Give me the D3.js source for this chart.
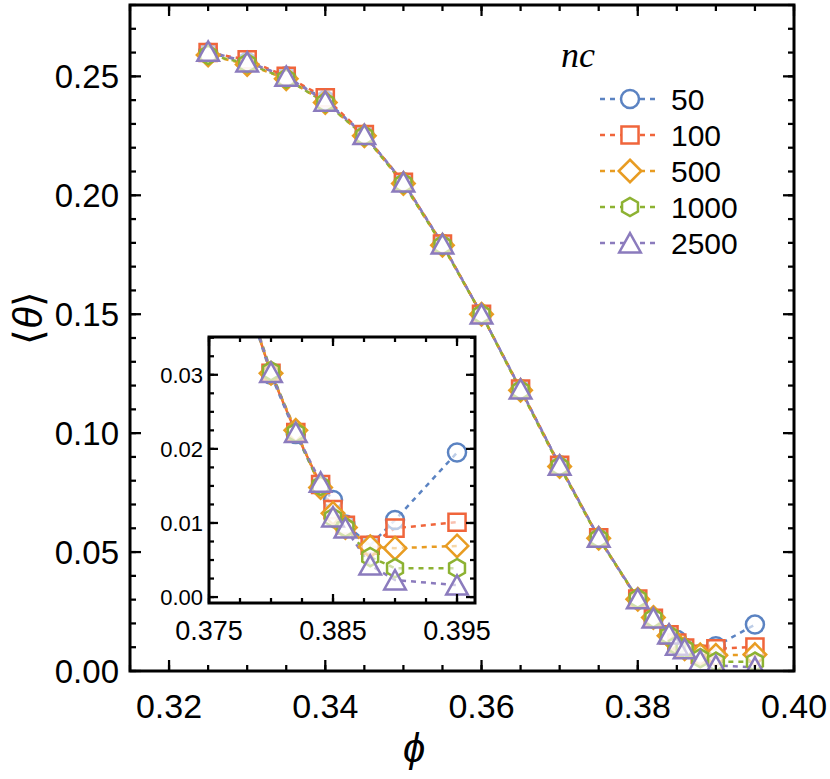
<!DOCTYPE html>
<html>
<head>
<meta charset="utf-8">
<script src="https://cdn.jsdelivr.net/npm/d3@7"></script>
<style>
  body { margin: 0; background: #fff; }
  text { font-family: "Liberation Sans", Arial, sans-serif; fill: #000; }
  text.serif { font-family: "Liberation Serif", "Times New Roman", serif; }
</style>
</head>
<body>
<script>
// chart values
const phi = [0.325, 0.33, 0.335, 0.34, 0.345, 0.35, 0.355, 0.36, 0.365, 0.37, 0.375, 0.38, 0.382, 0.384, 0.385, 0.386, 0.388, 0.39, 0.395];
const ncLabels = ['50', '100', '500', '1000', '2500'];
const theta50   = [0.2600, 0.2560, 0.2500, 0.2400, 0.2255, 0.2055, 0.1795, 0.1500, 0.1185, 0.0865, 0.0560, 0.0300, 0.0220, 0.0150, 0.0131, 0.0098, 0.0070, 0.0104, 0.0195];
const theta100  = [0.2600, 0.2570, 0.2500, 0.2410, 0.2255, 0.2055, 0.1795, 0.1500, 0.1185, 0.0865, 0.0560, 0.0302, 0.0222, 0.0152, 0.0118, 0.0097, 0.0070, 0.0093, 0.0101];
const theta500  = [0.2590, 0.2550, 0.2490, 0.2390, 0.2250, 0.2050, 0.1790, 0.1500, 0.1180, 0.0860, 0.0558, 0.0302, 0.0225, 0.0148, 0.0113, 0.0094, 0.0068, 0.0066, 0.0069];
const theta1000 = [0.2590, 0.2555, 0.2490, 0.2390, 0.2250, 0.2050, 0.1790, 0.1500, 0.1180, 0.0860, 0.0558, 0.0305, 0.0222, 0.0150, 0.0107, 0.0094, 0.0054, 0.0039, 0.0039];
const theta2500 = [0.2605, 0.2560, 0.2500, 0.2395, 0.2255, 0.2055, 0.1795, 0.1500, 0.1185, 0.0865, 0.0562, 0.0303, 0.0222, 0.0155, 0.0108, 0.0093, 0.0043, 0.0023, 0.0016];
const xTicks = [0.32, 0.34, 0.36, 0.38, 0.40];
const yTicks = [0.00, 0.05, 0.10, 0.15, 0.20, 0.25];
const insetXTicks = [0.375, 0.385, 0.395];
const insetYTicks = [0.00, 0.01, 0.02, 0.03];

const colors = ['#5b83c2', '#f0653b', '#e89c22', '#8db232', '#8b7bbd'];
const shapes = ['circle', 'square', 'diamond', 'hexagon', 'triangle'];

const series = [theta50, theta100, theta500, theta1000, theta2500].map((vals, i) => ({
  name: ncLabels[i],
  color: colors[i],
  shape: shapes[i],
  values: vals.map((v, j) => ({ x: phi[j], y: v }))
}));

const W = 830, H = 779;
const svg = d3.select('body').append('svg').attr('width', W).attr('height', H);

const markerPath = (shape, s) => {
  if (shape === 'circle') return d3.symbol(d3.symbolCircle, Math.PI * s * s)();
  if (shape === 'square') { const a = s * 0.95; return `M${-a},${-a}H${a}V${a}H${-a}Z`; }
  if (shape === 'diamond') { const a = s * 1.25; return `M0,${-a}L${a},0L0,${a}L${-a},0Z`; }
  if (shape === 'hexagon') {
    const a = s * 1.02;
    return d3.range(6).map(k => {
      const ang = Math.PI / 2 + k * Math.PI / 3;
      return (k ? 'L' : 'M') + (a * Math.cos(ang)).toFixed(2) + ',' + (-a * Math.sin(ang)).toFixed(2);
    }).join('') + 'Z';
  }
  // triangle
  const w = s * 1.2, h = s * 1.1;
  return `M0,${-h}L${w},${h * 0.95}L${-w},${h * 0.95}Z`;
};

const drawTicks = (g, scale, vals, len, orient, x0, y0, x1, y1) => {
  vals.forEach(v => {
    const p = scale(v);
    if (orient === 'x') {
      g.append('line').attr('x1', p).attr('x2', p).attr('y1', y1).attr('y2', y1 - len);
      g.append('line').attr('x1', p).attr('x2', p).attr('y1', y0).attr('y2', y0 + len);
    } else {
      g.append('line').attr('y1', p).attr('y2', p).attr('x1', x0).attr('x2', x0 + len);
      g.append('line').attr('y1', p).attr('y2', p).attr('x1', x1).attr('x2', x1 - len);
    }
  });
};

const drawPanel = (opts) => {
  const { x, y, xDomain, yDomain, id, xMajor, xMinor, yMajor, yMinor, major, minor, lw, r, dash } = opts;
  const xs = d3.scaleLinear().domain(xDomain).range([x[0], x[1]]);
  const ys = d3.scaleLinear().domain(yDomain).range([y[1], y[0]]);
  const g = svg.append('g');

  g.append('rect').attr('x', x[0]).attr('y', y[0]).attr('width', x[1] - x[0]).attr('height', y[1] - y[0]).attr('fill', '#fff');

  svg.append('clipPath').attr('id', id)
    .append('rect').attr('x', x[0]).attr('y', y[0]).attr('width', x[1] - x[0]).attr('height', y[1] - y[0]);

  const line = d3.line().x(d => xs(d.x)).y(d => ys(d.y));
  const plot = g.append('g').attr('clip-path', `url(#${id})`);

  series.forEach((s, i) => {
    plot.append('path')
      .datum(s.values)
      .attr('d', line)
      .attr('fill', 'none')
      .attr('stroke', s.color)
      .attr('stroke-width', lw)
      .attr('stroke-dasharray', dash)
      .attr('stroke-dashoffset', i * 2);
  });
  series.forEach(s => {
    plot.selectAll(null)
      .data(s.values.filter(d => d.x >= xDomain[0] - 0.003 && d.x <= xDomain[1] + 0.003))
      .enter().append('path')
      .attr('transform', d => `translate(${xs(d.x)},${ys(d.y)})`)
      .attr('d', markerPath(s.shape, r))
      .attr('fill', '#fff')
      .attr('fill-opacity', 0.6)
      .attr('stroke', s.color)
      .attr('stroke-width', lw);
  });

  const tg = g.append('g').attr('stroke', '#000').attr('stroke-width', lw * 0.9);
  drawTicks(tg, xs, xMinor, minor, 'x', x[0], y[0], x[1], y[1]);
  drawTicks(tg, xs, xMajor, major, 'x', x[0], y[0], x[1], y[1]);
  drawTicks(tg, ys, yMinor, minor, 'y', x[0], y[0], x[1], y[1]);
  drawTicks(tg, ys, yMajor, major, 'y', x[0], y[0], x[1], y[1]);

  g.append('rect').attr('x', x[0]).attr('y', y[0]).attr('width', x[1] - x[0]).attr('height', y[1] - y[0])
    .attr('fill', 'none').attr('stroke', '#000').attr('stroke-width', lw * 1.2);

  return { xs, ys, g };
};

// main panel
const main = drawPanel({
  id: 'clipMain',
  x: [130, 794], y: [5, 671],
  xDomain: [0.315, 0.40], yDomain: [0, 0.28],
  xMajor: xTicks, xMinor: d3.range(0.315, 0.4001, 0.005),
  yMajor: yTicks, yMinor: d3.range(0, 0.2801, 0.01),
  major: 11, minor: 6, lw: 2.5, r: 9, dash: '5,5'
});

main.g.selectAll('.xl').data(xTicks).enter().append('text')
  .attr('x', d => main.xs(d)).attr('y', 718)
  .attr('text-anchor', 'middle').attr('font-size', 34)
  .text(d => d.toFixed(2));
main.g.selectAll('.yl').data(yTicks).enter().append('text')
  .attr('x', 119).attr('y', d => main.ys(d) + 12)
  .attr('text-anchor', 'end').attr('font-size', 33)
  .text(d => d.toFixed(2));

svg.append('text').attr('x', 414).attr('y', 762).attr('text-anchor', 'middle')
  .attr('font-size', 40).attr('font-style', 'italic').text('\u03d5');
const yl = svg.append('text').attr('transform', 'translate(42,318) rotate(-90)').attr('text-anchor', 'middle')
  .attr('font-size', 40);
yl.append('tspan').text('\u27e8');
yl.append('tspan').attr('font-style', 'italic').text('\u03b8');
yl.append('tspan').text('\u27e9');

// legend
const leg = svg.append('g');
leg.append('text').attr('class', 'serif').attr('x', 578).attr('y', 67).attr('text-anchor', 'middle')
  .attr('font-style', 'italic').attr('font-size', 36).text('nc');
series.forEach((s, i) => {
  const yy = 99 + i * 36;
  leg.append('line').attr('x1', 600).attr('x2', 657).attr('y1', yy).attr('y2', yy)
    .attr('stroke', s.color).attr('stroke-width', 2.5).attr('stroke-dasharray', '5,5');
  leg.append('path').attr('transform', `translate(630,${yy})`).attr('d', markerPath(s.shape, 9))
    .attr('fill', '#fff').attr('stroke', s.color).attr('stroke-width', 2.5);
  leg.append('text').attr('x', 671).attr('y', yy + 11).attr('font-size', 30).text(s.name);
});

// inset panel
const inset = drawPanel({
  id: 'clipInset',
  x: [209, 475], y: [337, 603],
  xDomain: [0.375, 0.39645], yDomain: [-0.0008, 0.0351],
  xMajor: insetXTicks, xMinor: d3.range(0.375, 0.3966, 0.0025),
  yMajor: insetYTicks, yMinor: d3.range(0, 0.0351, 0.0025),
  major: 9, minor: 5, lw: 2.5, r: 9, dash: '5,5'
});
inset.g.selectAll('.ixl').data(insetXTicks).enter().append('text')
  .attr('x', d => inset.xs(d)).attr('y', 640)
  .attr('text-anchor', 'middle').attr('font-size', 27)
  .text(d => d.toFixed(3));
inset.g.selectAll('.iyl').data(insetYTicks).enter().append('text')
  .attr('x', 203).attr('y', d => inset.ys(d) + 8)
  .attr('text-anchor', 'end').attr('font-size', 22)
  .text(d => d.toFixed(2));
</script>
</body>
</html>
